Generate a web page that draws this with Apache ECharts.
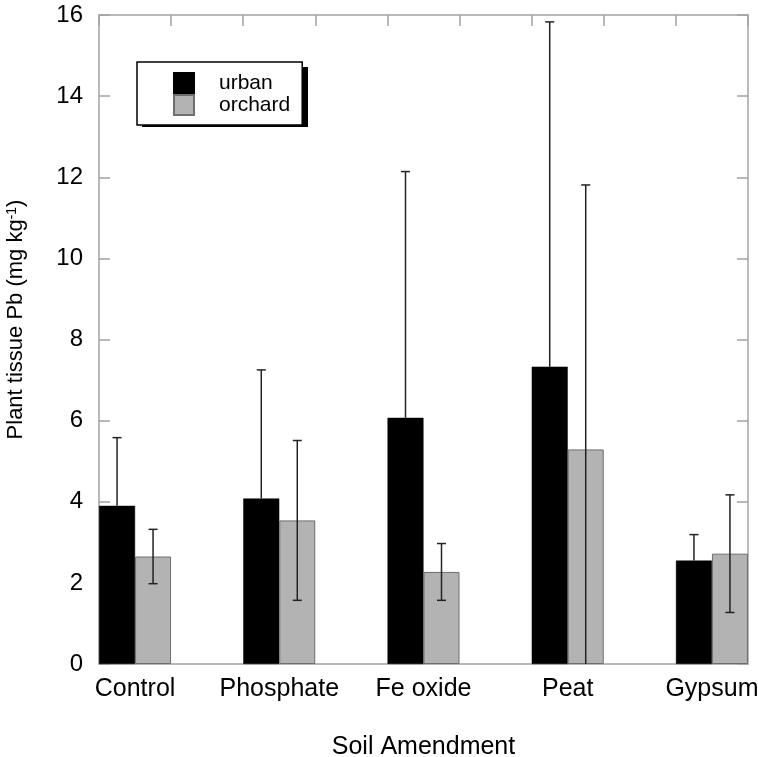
<!DOCTYPE html>
<html>
<head>
<meta charset="utf-8">
<script src="https://cdn.jsdelivr.net/npm/echarts@6/dist/echarts.min.js"></script>
<style>
html,body{margin:0;padding:0;background:#fff;}
#chart{width:758px;height:757px;}
</style>
</head>
<body>
<div id="chart"></div>
<script>
// ---- data ----
const categories = ['Control', 'Phosphate', 'Fe oxide', 'Peat', 'Gypsum'];
const urbanMean = [3.90, 4.08, 6.07, 7.33, 2.55];
const urbanSD = [1.68, 3.17, 6.07, 8.50, 0.64];
const orchardMean = [2.65, 3.54, 2.27, 5.29, 2.72];
const orchardSD = [0.67, 1.97, 0.70, 6.52, 1.45];
const yTicks = [0, 2, 4, 6, 8, 10, 12, 14, 16];

// ---- styles ----
const FONT = '"Liberation Sans", Arial, Helvetica, sans-serif';
const AXIS_GRAY = '#a3a3a3';
const BAR_W = 36;
const GRAY_FILL = '#b3b3b3';

const chart = echarts.init(document.getElementById('chart'), null, {renderer: 'canvas'});

const urbanData = categories.map((c, i) => [i + 1, urbanMean[i]]);
const orchardData = categories.map((c, i) => [i + 1, orchardMean[i]]);
const errData = [];
categories.forEach((c, i) => {
  errData.push([i + 1, urbanMean[i], urbanSD[i], -1]);
  errData.push([i + 1, orchardMean[i], orchardSD[i], 1]);
});

const option = {
  animation: false,
  backgroundColor: '#fff',
  textStyle: {fontFamily: FONT},
  grid: {left: 99, right: 10, top: 15, bottom: 93, containLabel: false, outerBoundsMode: 'none'},
  graphic: [
    {type: 'rect', left: 142, top: 67, z: 1, shape: {width: 166, height: 60}, style: {fill: '#000'}}
  ],
  legend: {
    left: 137, top: 62, z: 5,
    orient: 'vertical',
    itemWidth: 20, itemHeight: 20, itemGap: 0,
    icon: 'rect',
    padding: [10, 12, 9, 36],
    backgroundColor: '#fff',
    borderColor: '#000', borderWidth: 1.5,
    textStyle: {fontFamily: FONT, fontSize: 21, color: '#000', padding: [0, 0, 0, 20]},
    data: ['urban', 'orchard']
  },
  xAxis: [
    {
      type: 'value', position: 'bottom',
      min: 0.75, max: 5.25, interval: 0.25,
      axisLine: {show: true, onZero: false, lineStyle: {color: AXIS_GRAY, width: 1.5}},
      axisTick: {show: false},
      splitLine: {show: false},
      axisLabel: {
        fontFamily: FONT, fontSize: 25, color: '#000', margin: 13,
        showMinLabel: false, showMaxLabel: false,
        formatter: v => (Math.abs(v - Math.round(v)) < 1e-6 && v >= 1 && v <= categories.length) ? categories[Math.round(v) - 1] : ''
      },
      name: 'Soil Amendment', nameLocation: 'middle', nameGap: 71,
      nameTextStyle: {fontFamily: FONT, fontSize: 25, color: '#000'}
    },
    {
      type: 'value', position: 'top',
      min: 0, max: 9, interval: 1,
      axisLine: {show: true, onZero: false, lineStyle: {color: AXIS_GRAY, width: 1.5}},
      axisTick: {show: true, inside: true, length: 11, lineStyle: {color: AXIS_GRAY, width: 1.5}},
      axisLabel: {show: false},
      splitLine: {show: false}
    }
  ],
  yAxis: [
    {
      type: 'value', position: 'left',
      min: yTicks[0], max: yTicks[yTicks.length - 1], interval: 2,
      axisLine: {show: true, onZero: false, lineStyle: {color: AXIS_GRAY, width: 1.5}},
      axisTick: {show: true, inside: true, length: 11, lineStyle: {color: AXIS_GRAY, width: 1.5}},
      splitLine: {show: false},
      axisLabel: {fontFamily: FONT, fontSize: 24, color: '#000', margin: 16},
      name: 'Plant tissue Pb (mg kg{sup|-1})', nameLocation: 'middle', nameGap: 72,
      nameTextStyle: {
        fontFamily: FONT, fontSize: 22, color: '#000', padding: [0, 0, 0, 40],
        rich: {sup: {fontFamily: FONT, fontSize: 14, color: '#000', verticalAlign: 'top', padding: [0, 0, 8, 0]}}
      }
    },
    {
      type: 'value', position: 'right',
      min: yTicks[0], max: yTicks[yTicks.length - 1], interval: 2,
      axisLine: {show: true, onZero: false, lineStyle: {color: AXIS_GRAY, width: 1.5}},
      axisTick: {show: true, inside: true, length: 11, lineStyle: {color: AXIS_GRAY, width: 1.5}},
      axisLabel: {show: false},
      splitLine: {show: false}
    }
  ],
  series: [
    {
      name: 'urban', type: 'bar', xAxisIndex: 0, yAxisIndex: 0,
      barWidth: BAR_W, barGap: '0%',
      itemStyle: {color: '#000', borderColor: '#000', borderWidth: 0.5},
      data: urbanData
    },
    {
      name: 'orchard', type: 'bar', xAxisIndex: 0, yAxisIndex: 0,
      barWidth: BAR_W, barGap: '0%',
      itemStyle: {color: GRAY_FILL, borderColor: '#6e6e6e', borderWidth: 1},
      data: orchardData
    },
    {
      type: 'custom', xAxisIndex: 0, yAxisIndex: 0, z: 10,
      data: errData,
      renderItem: function (params, api) {
        const x = api.value(0), m = api.value(1), sd = api.value(2), side = api.value(3);
        const hi = m + sd;
        const loRaw = m - sd;
        // urban (black) bars hide the lower half of their error bar
        const lo = side < 0 ? m : Math.max(0, loRaw);
        const pHi = api.coord([x, hi]);
        const pLo = api.coord([x, lo]);
        const cx = pHi[0] + side * BAR_W / 2;
        const style = {stroke: '#222', lineWidth: 1.5};
        const cap = 4.5;
        const children = [
          {type: 'line', shape: {x1: cx, y1: pHi[1], x2: cx, y2: pLo[1]}, style: style},
          {type: 'line', shape: {x1: cx - cap, y1: pHi[1], x2: cx + cap, y2: pHi[1]}, style: style}
        ];
        if (side > 0 && loRaw >= 0) {
          children.push({type: 'line', shape: {x1: cx - cap, y1: pLo[1], x2: cx + cap, y2: pLo[1]}, style: style});
        }
        return {type: 'group', children: children};
      }
    }
  ]
};
chart.setOption(option);
</script>
</body>
</html>
